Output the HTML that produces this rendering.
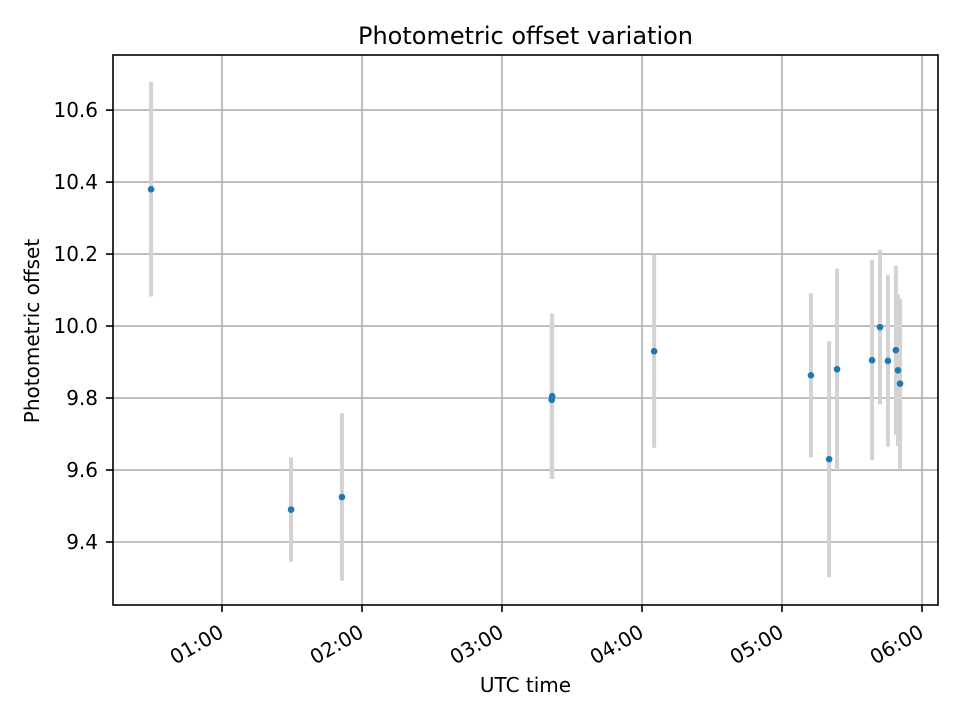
<!DOCTYPE html>
<html><head><meta charset="utf-8"><style>
body{margin:0;background:#fff;font-family:"DejaVu Sans","Liberation Sans",sans-serif}
</style></head><body>
<svg id="c" width="960" height="720" xmlns="http://www.w3.org/2000/svg" font-family="DejaVu Sans, Liberation Sans, sans-serif"></svg>
<script>
const timesMin=[29.6,89.6,111.4,201.3,201.5,245.2,312.4,320.2,323.6,338.6,342.0,345.4,348.8,349.7,350.6];
const offsets=[10.38,9.49,9.525,9.795,9.805,9.93,9.863,9.63,9.88,9.905,9.997,9.903,9.933,9.877,9.84];
const errors=[0.298,0.145,0.233,0.22,0.23,0.268,0.228,0.328,0.28,0.278,0.215,0.238,0.235,0.21,0.236];
const yTicks=[9.4,9.6,9.8,10.0,10.2,10.4,10.6];
const xTickHours=[1,2,3,4,5,6];
const xTickLabels=["01:00","02:00","03:00","04:00","05:00","06:00"];
const L=113,R=938,T=55,B=605;
const xMin=13.28,xMax=366.86,yMin=9.225,yMax=10.753;
const sx=m=>L+(m-xMin)/(xMax-xMin)*(R-L);
const sy=v=>B-(v-yMin)/(yMax-yMin)*(B-T);
const svg=document.getElementById('c');const NS='http://www.w3.org/2000/svg';
function mk(t,a,p){const e=document.createElementNS(NS,t);for(const k in a)e.setAttribute(k,a[k]);(p||svg).appendChild(e);return e;}
const grid=mk('g',{});
yTicks.forEach((v,i)=>{const y=sy(v);
 const g=mk('line',{x1:L,x2:R,y1:y,y2:y,stroke:'#b0b0b0','stroke-width':1.6},grid);
 
 const tk=mk('line',{x1:L-7,x2:L,y1:y,y2:y,stroke:'#000','stroke-width':1.6});
 
 const t=mk('text',{x:L-15,y:y+7,'text-anchor':'end','font-size':20});t.textContent=v.toFixed(1);
 });
xTickHours.forEach((h,i)=>{const x=sx(h*60);
 const g=mk('line',{x1:x,x2:x,y1:T,y2:B,stroke:'#b0b0b0','stroke-width':1.6},grid);
 
 const tk=mk('line',{x1:x,x2:x,y1:B,y2:B+7,stroke:'#000','stroke-width':1.6});
 
 const ax=x+3,ay=B+31;
 const t=mk('text',{x:ax,y:ay,'text-anchor':'end','font-size':20,transform:`rotate(-30 ${ax} ${ay})`});t.textContent=xTickLabels[i];
 });
const eb=mk('g',{});
timesMin.forEach((m,i)=>{const x=sx(m);
 const l=mk('line',{x1:x,x2:x,y1:sy(offsets[i]+errors[i]),y2:sy(offsets[i]-errors[i]),stroke:'#d3d3d3','stroke-width':4},eb);
 });
const pts=mk('g',{});
timesMin.forEach((m,i)=>{
 const c=mk('circle',{cx:sx(m),cy:sy(offsets[i]),r:3.3,fill:'#1f77b4'},pts);
 });
const f=mk('rect',{x:L,y:T,width:R-L,height:B-T,fill:'none',stroke:'#000','stroke-width':1.6});

const ti=mk('text',{x:(L+R)/2,y:44,'text-anchor':'middle','font-size':24});ti.textContent='Photometric offset variation';

const xl=mk('text',{x:(L+R)/2,y:692,'text-anchor':'middle','font-size':20});xl.textContent='UTC time';

const yl=mk('text',{x:39,y:331,'text-anchor':'middle','font-size':20,transform:'rotate(-90 39 331)'});yl.textContent='Photometric offset';

</script>
</body></html>
